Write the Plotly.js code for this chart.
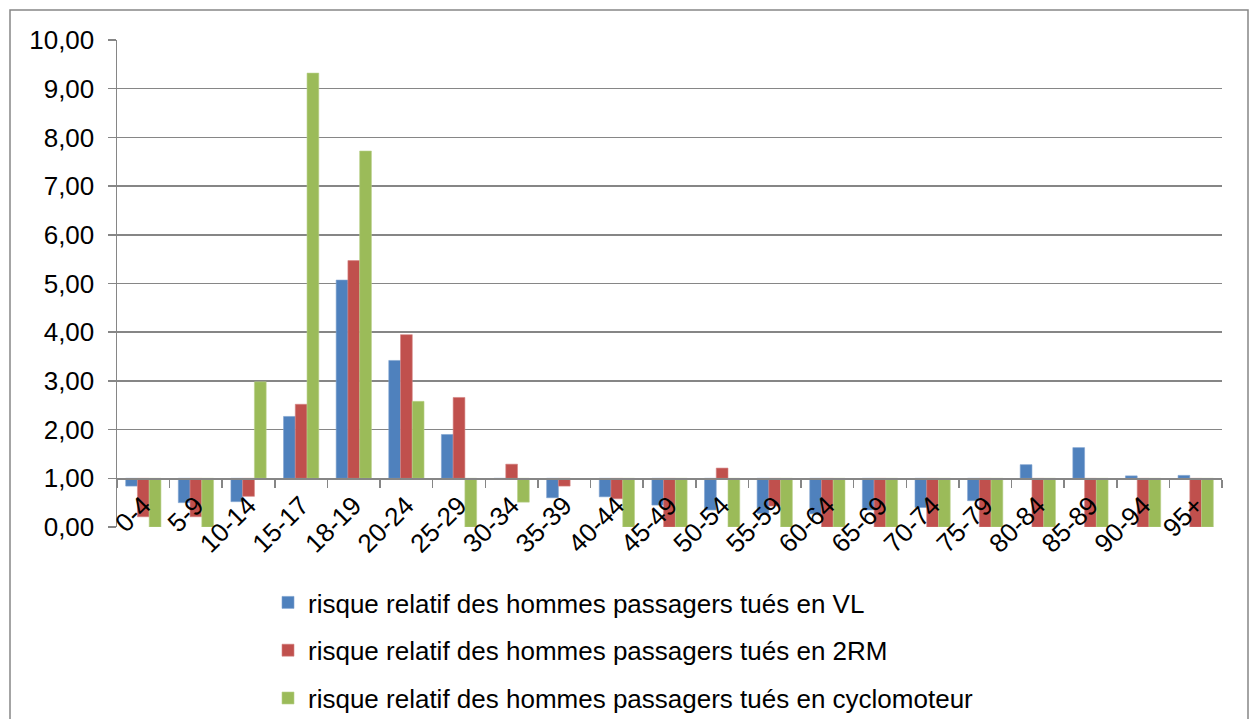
<!DOCTYPE html>
<html>
<head>
<meta charset="utf-8">
<script src="https://cdn.plot.ly/plotly-3.0.1.min.js"></script>
<style>html,body{margin:0;padding:0;background:#fff;}#chart{width:1251px;height:719px;}</style>
</head>
<body>
<div id="chart"></div>
<script>
const categories = ['0-4','5-9','10-14','15-17','18-19','20-24','25-29','30-34','35-39','40-44','45-49','50-54','55-59','60-64','65-69','70-74','75-79','80-84','85-89','90-94','95+'];
const seriesNames = [
  'risque relatif des hommes passagers tués en VL',
  'risque relatif des hommes passagers tués en 2RM',
  'risque relatif des hommes passagers tués en cyclomoteur'
];
const vl    = [0.84, 0.50, 0.52, 2.27, 5.07, 3.42, 1.90, 0.99, 0.60, 0.62, 0.45, 0.35, 0.28, 0.27, 0.35, 0.40, 0.54, 1.28, 1.63, 1.05, 1.06];
const rm2   = [0.21, 0.21, 0.63, 2.52, 5.47, 3.95, 2.66, 1.29, 0.84, 0.58, 0.00, 1.21, 0.43, 0.00, 0.00, 0.00, 0.00, 0.00, 0.00, 0.00, 0.00];
const cyclo = [0.00, 0.00, 2.98, 9.32, 7.72, 2.58, 0.00, 0.51, null, 0.00, 0.00, 0.00, 0.00, 0.00, 0.00, 0.00, 0.00, 0.00, 0.00, 0.00, 0.00];
const colors = ['#4F81BD', '#C0504D', '#9BBB59'];
const lineColors = ['#7FA3D0', '#D58583', '#B9D08A'];
const baseValue = 1;

const FONT = 'Liberation Sans, Arial, sans-serif';
const data = [vl, rm2, cyclo].map((vals, i) => ({
  type: 'bar',
  name: seriesNames[i],
  legendgroup: 'g' + i,
  x: categories,
  y: vals.map(v => v === null ? null : v - baseValue),
  base: baseValue,
  marker: {color: colors[i], line: {color: lineColors[i], width: 0.6}},
  hoverinfo: 'skip'
}));

// plot area in pixels
const L = 117, R = 1222, T = 40, B = 527, W = 1251, H = 719;
const pw = R - L, ph = B - T;
const px = p => (p - L) / pw;
const py = p => (B - p) / ph;

const layout = {
  width: W, height: H,
  margin: {l: L, r: W - R, t: T, b: H - B, pad: 0, autoexpand: false},
  paper_bgcolor: '#fff', plot_bgcolor: 'rgba(0,0,0,0)',
  font: {family: FONT, size: 26, color: '#000'},
  separators: ', ',
  barmode: 'group',
  bargap: 0.33,
  bargroupgap: 0,
  showlegend: true,
  legend: {
    orientation: 'v',
    x: px(268), xanchor: 'left',
    y: py(579), yanchor: 'top',
    font: {family: FONT, size: 26, color: '#000'},
    tracegroupgap: 11,
    itemwidth: 30,
    bgcolor: 'rgba(0,0,0,0)'
  },
  xaxis: {
    type: 'category',
    anchor: 'free',
    position: 0.1,
    showline: true, linecolor: '#868686', linewidth: 1.5,
    ticks: 'outside', ticklen: 8, tickcolor: '#868686', tickwidth: 1.5,
    tickson: 'boundaries',
    tickangle: -45,
    showgrid: false, zeroline: false,
    tickfont: {family: FONT, size: 26, color: '#000'},
    range: [-0.5, categories.length - 0.5],
    automargin: false
  },
  yaxis: {
    range: [0, 10],
    dtick: 1, tick0: 0,
    tickformat: '.2f',
    showline: true, linecolor: '#868686', linewidth: 1.5,
    ticks: 'outside', ticklen: 8, tickcolor: '#868686', tickwidth: 1.5,
    ticklabelstandoff: 8,
    showgrid: true, gridcolor: '#868686', gridwidth: 1.5,
    zeroline: false,
    tickfont: {family: FONT, size: 26, color: '#000'},
    automargin: false
  },
  shapes: [{
    type: 'rect', xref: 'paper', yref: 'paper', layer: 'below',
    x0: px(10), x1: px(1248), y0: py(740), y1: py(10),
    line: {color: '#868686', width: 1.5}, fillcolor: 'rgba(0,0,0,0)'
  }]
};

Plotly.newPlot('chart', data, layout, {displayModeBar: false, staticPlot: true});
</script>
</body>
</html>
